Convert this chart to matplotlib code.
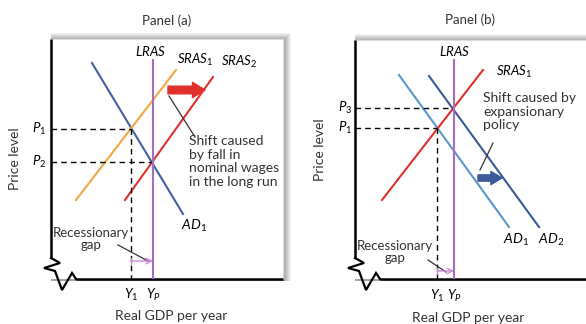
import matplotlib
matplotlib.use("Agg")
import matplotlib.pyplot as plt
from matplotlib.patches import Rectangle

plt.rcParams['font.family'] = ['Lato', 'DejaVu Sans']
plt.rcParams['mathtext.fontset'] = 'custom'
plt.rcParams['mathtext.rm'] = 'Lato'
plt.rcParams['mathtext.it'] = 'Lato:italic'

# ---- data (1 unit = 10 px of the original drawing) ----
# panel (a): recession closed by falling nominal wages
a_lras_x = 10.2
a_lras_top = 21.9
a_ad1_x = [4.1, 13.2]
a_ad1_y = [21.6, 6.5]
a_sras1_x = [2.5, 12.5]
a_sras1_y = [7.9, 20.9]
a_sras2_x = [7.4, 16.2]
a_sras2_y = [7.9, 20.2]
a_p = [15.0, 11.7]          # P1, P2
a_y = [8.0, 10.2]           # Y1, YP

# panel (b): recession closed by expansionary policy
b_lras_x = 9.9
b_lras_top = 21.9
b_sras1_x = [2.7, 12.8]
b_sras1_y = [7.9, 20.9]
b_ad1_x = [4.4, 15.4]
b_ad1_y = [20.4, 5.2]
b_ad2_x = [7.4, 18.4]
b_ad2_y = [20.3, 5.2]
b_p = [17.1, 15.1]          # P3, P1
b_y = [8.2, 9.9]            # Y1, YP

# axis break (zigzag) at bottom-left corner
brk_x = [0, 0.9, -0.7, 0.4, 1.1, 2.1, 2.5]
brk_y = [2.1, 1.6, 1.1, 0.8, -1.1, 0.6, 0]

LRAS_C = '#a86cc1'
ORANGE = '#f4a640'
RED = '#e0302e'
BLUE_A = '#4560a8'
BLUE_L = '#5b96cc'
BLUE_D = '#3b5a9a'
PINK = '#c88ad6'
TXT = '#333333'

W, H = 586, 324
fig = plt.figure(figsize=(W / 100, H / 100), dpi=100)
fig.patch.set_facecolor('white')


def shadow(x0, y0, x1, y1):
    # soft gray shadow on top and right of the panel box (pixel coords)
    for i in range(8, 0, -1):
        fig.add_artist(Rectangle(((x0) / W, (H - y1 - 2) / H),
                                 (x1 - x0 + i) / W, (y1 - y0 + i) / H,
                                 transform=fig.transFigure, facecolor='black',
                                 alpha=0.05, edgecolor='none', zorder=0))


def make_panel(left, top, right, bottom):
    shadow(left, top, right, bottom)
    ax = fig.add_axes([left / W, (H - bottom) / H, (right - left) / W, (bottom - top) / H])
    ax.set_zorder(1)
    ax.set_facecolor('white')
    ax.set_xlim(0, (right - left) / 10)
    ax.set_ylim(0, (bottom - top) / 10)
    for s in ax.spines.values():
        s.set_visible(False)
    ax.set_xticks([])
    ax.set_yticks([])
    xm, ym = ax.get_xlim()[1], ax.get_ylim()[1]
    ax.plot([0, xm, xm], [ym, ym, 0], color='#dcdcdc', lw=0.8, clip_on=False)
    ax.plot([0, 0], [ym, brk_y[0]], color='black', lw=1.8, clip_on=False, solid_capstyle='butt')
    ax.plot(brk_x, brk_y, color='black', lw=1.6, clip_on=False, solid_joinstyle='miter')
    ax.plot([brk_x[-1], xm], [0, 0], color='black', lw=1.8, clip_on=False, solid_capstyle='butt')
    return ax


def dashed(ax, x, p, down=True):
    ax.plot([0, x], [p, p], color='black', lw=1, ls=(0, (4, 3)))
    if down:
        ax.plot([x, x], [p, 0], color='black', lw=1, ls=(0, (4, 3)))


def gap(ax, y1, yp, yy, tx, ty, px, py):
    ax.text(tx, ty, 'Recessionary\ngap', ha='center', va='center', fontsize=9.5,
            linespacing=1.05, color=TXT)
    ax.plot(px, py, color=TXT, lw=0.9)
    ax.annotate('', xy=(yp, yy), xytext=(y1, yy),
                arrowprops=dict(arrowstyle='->,head_width=0.2,head_length=0.4',
                                color=PINK, lw=1, shrinkA=0, shrinkB=0))
    ax.plot([y1, y1], [yy - 0.3, yy + 0.3], color=PINK, lw=1)


# ---------------- panel (a) ----------------
ax = make_panel(51, 39, 283, 279)
ax.plot(a_ad1_x, a_ad1_y, color=BLUE_A, lw=1.5)
ax.plot(a_sras1_x, a_sras1_y, color=ORANGE, lw=1.5)
ax.plot(a_sras2_x, a_sras2_y, color=RED, lw=1.5)
dashed(ax, a_y[0], a_p[0])
dashed(ax, a_y[1], a_p[1], down=False)
ax.plot([a_lras_x, a_lras_x], [0, a_lras_top], color=LRAS_C, lw=1.5)

ax.text(a_lras_x - 0.3, 22.8, '$LRAS$', ha='center', va='center', fontsize=9.5)
ax.text(14.4, 21.9, '$SRAS_1$', ha='center', va='center', fontsize=9.5)
ax.text(18.8, 21.7, '$SRAS_2$', ha='center', va='center', fontsize=9.5)
ax.text(14.3, 5.3, '$AD_1$', ha='center', va='center', fontsize=10)

ax.annotate('', xy=(15.4, 18.9), xytext=(11.7, 18.9),
            arrowprops=dict(arrowstyle='simple,head_width=1.1,head_length=0.9,tail_width=0.55',
                            color=RED, shrinkA=0, shrinkB=0, mutation_scale=10))
ax.plot([11.8, 14.4], [18.3, 14.2], color=TXT, lw=0.9)
ax.text(13.8, 14.4, 'Shift caused\nby fall in\nnominal wages\nin the long run',
        ha='left', va='top', fontsize=10, linespacing=1.15, color=TXT)

gap(ax, a_y[0], a_y[1], 1.8, 4.0, 4.0, [6.7, 9.7], [3.4, 1.8])

for lab, p in zip(['$P_1$', '$P_2$'], a_p):
    ax.text(-1.2, p, lab, ha='center', va='center', fontsize=9.5, clip_on=False)
for lab, y in zip(['$Y_1$', '$Y_P$'], a_y):
    ax.text(y, -1.6, lab, ha='center', va='center', fontsize=9.5, clip_on=False)

ax.text(0.5, 1.075, 'Panel (a)', transform=ax.transAxes, ha='center', va='center',
        fontsize=9.5, color=TXT)
ax.text(0.52, -0.155, 'Real GDP per year', transform=ax.transAxes, ha='center',
        va='center', fontsize=10, color=TXT)
ax.text(-0.155, 0.5, 'Price level', transform=ax.transAxes, ha='center', va='center',
        rotation=90, fontsize=10, color=TXT)

# ---------------- panel (b) ----------------
bx = make_panel(355, 40, 590, 279)
bx.plot(b_ad1_x, b_ad1_y, color=BLUE_L, lw=1.5)
bx.plot(b_ad2_x, b_ad2_y, color=BLUE_D, lw=1.5)
bx.plot(b_sras1_x, b_sras1_y, color=RED, lw=1.5)
dashed(bx, b_lras_x, b_p[0], down=False)
dashed(bx, b_y[0], b_p[1])
bx.plot([b_lras_x, b_lras_x], [0, b_lras_top], color=LRAS_C, lw=1.5)

bx.text(b_lras_x, 22.8, '$LRAS$', ha='center', va='center', fontsize=9.5)
bx.text(15.9, 20.7, '$SRAS_1$', ha='center', va='center', fontsize=9.5)
bx.text(16.1, 3.9, '$AD_1$', ha='center', va='center', fontsize=10)
bx.text(19.6, 3.9, '$AD_2$', ha='center', va='center', fontsize=10)

bx.annotate('', xy=(14.7, 10.1), xytext=(12.3, 10.1),
            arrowprops=dict(arrowstyle='simple,head_width=0.95,head_length=0.8,tail_width=0.45',
                            color=BLUE_D, shrinkA=0, shrinkB=0, mutation_scale=10))
bx.plot([12.5, 13.8], [10.9, 13.6], color=TXT, lw=0.9)
bx.text(12.8, 18.7, 'Shift caused by\nexpansionary\npolicy',
        ha='left', va='top', fontsize=10, linespacing=1.15, color=TXT)

gap(bx, b_y[0], b_y[1], 0.8, 4.0, 2.7, [7.3, 9.1], [1.9, 0.7])

for lab, p in zip(['$P_3$', '$P_1$'], b_p):
    bx.text(-1.0, p, lab, ha='center', va='center', fontsize=9.5, clip_on=False)
for lab, y in zip(['$Y_1$', '$Y_P$'], b_y):
    bx.text(y, -1.7, lab, ha='center', va='center', fontsize=9.5, clip_on=False)

bx.text(115 / 235, 1.085, 'Panel (b)', transform=bx.transAxes, ha='center', va='center',
        fontsize=9.5, color=TXT)
bx.text(113 / 235, -0.165, 'Real GDP per year', transform=bx.transAxes, ha='center',
        va='center', fontsize=10, color=TXT)
bx.text(-0.15, 0.54, 'Price level', transform=bx.transAxes, ha='center', va='center',
        rotation=90, fontsize=10, color=TXT)

fig.savefig('out.png', dpi=100, facecolor='white')
